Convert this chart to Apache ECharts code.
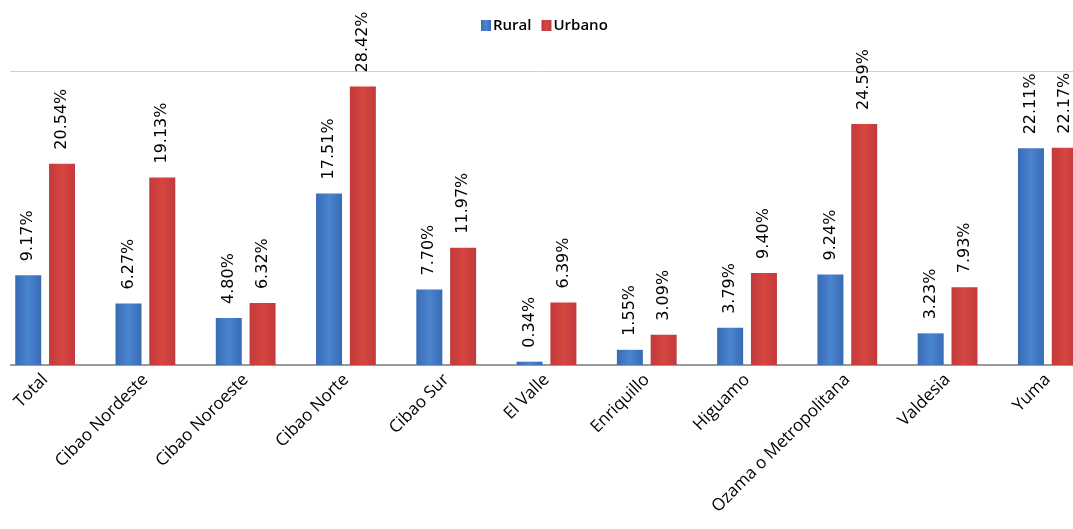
<!DOCTYPE html>
<html>
<head>
<meta charset="utf-8">
<script src="https://cdn.jsdelivr.net/npm/echarts@6/dist/echarts.min.js"></script>
<style>
  html, body { margin: 0; padding: 0; background: #fff; }
  #chart { width: 1073px; height: 529px; }
</style>
</head>
<body>
<div id="chart"></div>
<script>
// Regions and their rural / urban percentages
const categories = ['Total', 'Cibao Nordeste', 'Cibao Noroeste', 'Cibao Norte', 'Cibao Sur',
  'El Valle', 'Enriquillo', 'Higuamo', 'Ozama o Metropolitana', 'Valdesia', 'Yuma'];
const rural = [9.17, 6.27, 4.80, 17.51, 7.70, 0.34, 1.55, 3.79, 9.24, 3.23, 22.11];
const urbano = [20.54, 19.13, 6.32, 28.42, 11.97, 6.39, 3.09, 9.40, 24.59, 7.93, 22.17];
const seriesNames = ['Rural', 'Urbano'];

function barGradient(edge, mid) {
  return new echarts.graphic.LinearGradient(0, 0, 1, 0, [
    { offset: 0, color: edge },
    { offset: 0.5, color: mid },
    { offset: 1, color: edge }
  ]);
}

const valueLabel = {
  show: true,
  position: 'top',
  rotate: 90,
  align: 'left',
  verticalAlign: 'middle',
  distance: 14,
  fontFamily: 'DejaVu Sans',
  fontSize: 16,
  color: '#000',
  formatter: p => p.value.toFixed(2) + '%'
};

const chart = echarts.init(document.getElementById('chart'));
chart.setOption({
  animation: false,
  legend: {
    left: 476,
    top: 13,
    itemWidth: 10,
    itemHeight: 11,
    itemGap: 10,
    icon: 'rect',
    textStyle: { fontFamily: 'Open Sans', fontWeight: 600, fontSize: 15, color: '#000', padding: [0, 0, 0, -3] },
    data: seriesNames
  },
  // The plot runs a little past both page edges, so let it overflow.
  grid: { left: -5, right: -25, top: 71, bottom: 164, containLabel: false, outerBoundsMode: 'none' },
  xAxis: {
    type: 'category',
    data: categories,
    axisLine: { show: true, lineStyle: { color: '#9a9a9a', width: 2 } },
    axisTick: { show: false },
    axisLabel: {
      rotate: 45,
      margin: 12,
      interval: 0,
      fontFamily: 'Open Sans',
      fontSize: 17,
      color: '#000'
    }
  },
  yAxis: {
    type: 'value',
    min: 0,
    max: 30,
    interval: 30,
    axisLabel: { show: false },
    axisLine: { show: false },
    axisTick: { show: false },
    splitLine: { show: true, lineStyle: { color: '#d0d0d0', width: 1 } }
  },
  series: [
    {
      name: seriesNames[0],
      type: 'bar',
      data: rural,
      barWidth: 26,
      barGap: '30%',
      itemStyle: { color: barGradient('#3a6bb5', '#4a84cf') },
      label: valueLabel
    },
    {
      name: seriesNames[1],
      type: 'bar',
      data: urbano,
      barWidth: 26,
      itemStyle: { color: barGradient('#c23a3c', '#d6453f') },
      label: valueLabel
    }
  ],
  graphic: [{
    type: 'rect',
    left: 0, top: 60,
    shape: { width: 10, height: 320 },
    style: { fill: '#fff' },
    z: 100
  }]
});
</script>
</body>
</html>
